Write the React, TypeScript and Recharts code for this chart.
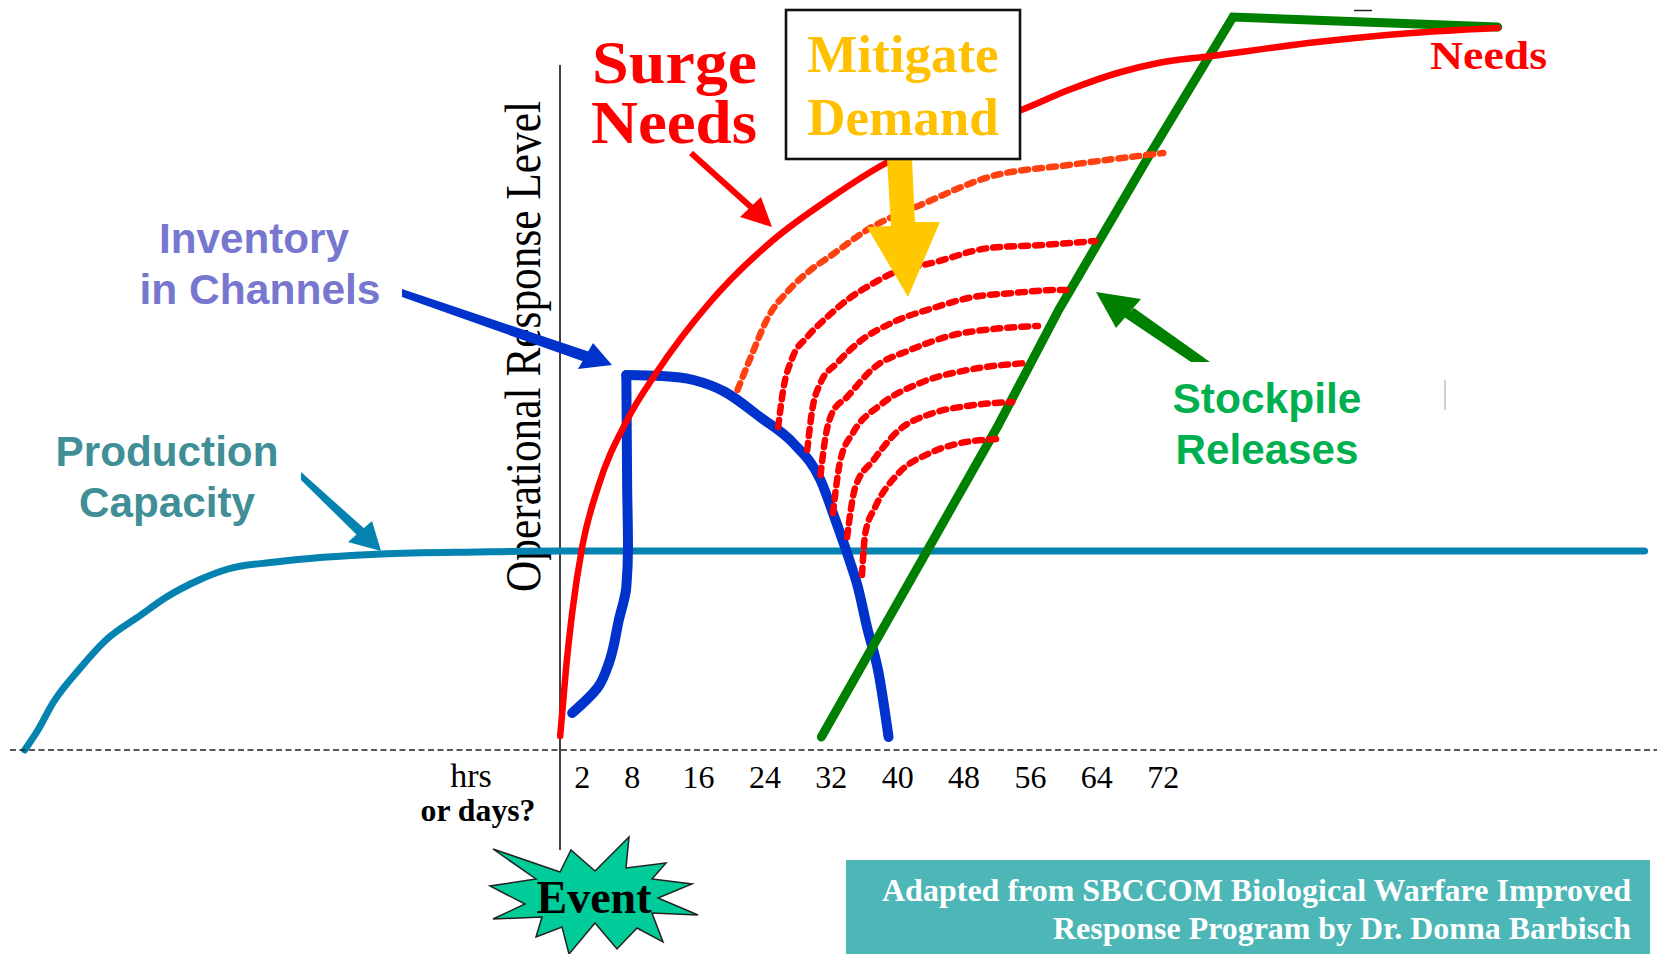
import React from "react";
import { ComposedChart, Line, XAxis, YAxis } from "recharts";

const hourTicks = [2, 8, 16, 24, 32, 40, 48, 56, 64, 72];

const surgeHours = [-0.67, 0.05, 0.77, 1.98, 3.9, 7.4, 10.9, 17.3, 25.0, 31.9, 38.6, 46.4, 54.9, 60.6, 66.9, 71.4, 77.8, 90.6, 102.0, 112.3];
const surgeLevels = [14, 83, 137, 203, 263, 330, 377, 447, 510, 552, 587, 615, 640, 660, 678, 687, 694, 708, 717, 722];

const inventoryRiseHours = [0.77, 3.9, 5.2, 6.4, 7.3, 7.5, 7.4, 7.3];
const inventoryRiseLevels = [37, 63, 87, 130, 163, 203, 263, 375];
const inventoryFallHours = [7.3, 11.6, 15.4, 19.2, 23.4, 27.4, 30.7, 32.5, 34.3, 35.2, 36.3, 37.7, 38.9];
const inventoryFallLevels = [375, 374, 370, 358, 333, 307, 270, 230, 187, 163, 123, 77, 13];

const stockpileHours = [30.8, 43.6, 52.0, 59.4, 70.2, 80.4, 112.3];
const stockpileLevels = [13, 200, 323, 440, 593, 733, 723];

const productionHours = [-65.2, -63.6, -61.8, -58.7, -55.4, -51.2, -48.1, -44.2, -40.7, -35.0, -22.2, -10.8, -0.67, 130.0];
const productionLevels = [0, 20, 47, 80, 110, 135, 153, 170, 181, 188, 196, 198, 199, 199];

const mitigated1Hours = [20.7, 22.5, 24.4, 26.9, 29.5, 31.9, 36.3, 43.3, 51.0, 60.6, 72.0];
const mitigated1Levels = [360, 397, 433, 460, 480, 494, 520, 547, 573, 585, 597];
const mitigated2Hours = [25.6, 26.2, 27.3, 29.1, 31.5, 33.9, 37.1, 38.9, 44.6, 51.0, 57.4, 63.8];
const mitigated2Levels = [323, 360, 392, 413, 433, 450, 467, 475, 488, 502, 505, 509];
const mitigated3Hours = [29.1, 29.7, 30.7, 32.7, 35.2, 39.5, 44.3, 49.1, 53.9, 59.2, 60.3];
const mitigated3Levels = [300, 340, 367, 387, 407, 428, 442, 453, 457, 460, 460];
const mitigated4Hours = [30.7, 31.3, 32.1, 33.9, 37.1, 41.5, 46.7, 51.5, 56.9];
const mitigated4Levels = [275, 313, 337, 353, 382, 400, 415, 421, 424];
const mitigated5Hours = [32.2, 33.1, 34.6, 37.9, 42.7, 48.4, 55.6];
const mitigated5Levels = [237, 290, 317, 345, 367, 380, 387];
const mitigated6Hours = [33.9, 34.9, 37.1, 39.9, 44.3, 48.4, 53.8];
const mitigated6Levels = [213, 263, 290, 318, 337, 344, 348];
const mitigated7Hours = [35.7, 36.1, 37.3, 39.9, 43.9, 47.6, 52.0];
const mitigated7Levels = [175, 217, 243, 275, 297, 307, 311];

const zip = (xs: number[], ys: number[]) => xs.map((x, i) => ({ x, y: ys[i] }));

const SERIF = "'Liberation Serif', serif";
const SANS = "'Liberation Sans', sans-serif";
const layer: React.CSSProperties = { position: "absolute", left: 0, top: 0 };

const dashedRed = [
  { name: "Mitigated 2", xs: mitigated2Hours, ys: mitigated2Levels },
  { name: "Mitigated 3", xs: mitigated3Hours, ys: mitigated3Levels },
  { name: "Mitigated 4", xs: mitigated4Hours, ys: mitigated4Levels },
  { name: "Mitigated 5", xs: mitigated5Hours, ys: mitigated5Levels },
  { name: "Mitigated 6", xs: mitigated6Hours, ys: mitigated6Levels },
  { name: "Mitigated 7", xs: mitigated7Hours, ys: mitigated7Levels },
];

export default function App() {
  return (
    <div style={{ ...layer, width: 1657, height: 954, overflow: "hidden", background: "#fff" }}>
      <svg width={1657} height={954} style={layer}>
        <line x1={560} y1={65} x2={560} y2={850} stroke="#111" strokeWidth={1.6} />
        <text
          transform="translate(540,592) rotate(-90) scale(1,1.2)"
          fontFamily={SERIF}
          fontSize={43}
          fill="#000"
          textLength={491}
          lengthAdjust="spacingAndGlyphs"
        >
          Operational Response Level
        </text>
      </svg>

      <div style={layer}>
        <ComposedChart width={1657} height={954} margin={{ top: 0, right: 0, bottom: 144, left: 10 }}>
          <XAxis
            type="number"
            dataKey="x"
            domain={[-66.97, 131.5]}
            ticks={hourTicks}
            interval={0}
            height={60}
            allowDataOverflow
            tickLine={false}
            tickMargin={9}
            axisLine={{ stroke: "#222", strokeWidth: 1.4, strokeDasharray: "6 3.5" }}
            tick={{ fontFamily: SERIF, fontSize: 32, fill: "#000" }}
          />
          <YAxis hide type="number" domain={[0, 750]} />
          <Line data={zip(productionHours, productionLevels)} dataKey="y" name="Production Capacity" type="monotone" stroke="#0482B0" strokeWidth={7} strokeLinecap="round" dot={false} activeDot={false} isAnimationActive={false} />
          <Line data={zip(inventoryRiseHours, inventoryRiseLevels)} dataKey="y" name="Inventory rise" type="monotoneY" stroke="#0033CC" strokeWidth={10} strokeLinecap="round" dot={false} activeDot={false} isAnimationActive={false} />
          <Line data={zip(inventoryFallHours, inventoryFallLevels)} dataKey="y" name="Inventory fall" type="monotone" stroke="#0033CC" strokeWidth={10} strokeLinecap="round" dot={false} activeDot={false} isAnimationActive={false} />
          <Line data={zip(stockpileHours, stockpileLevels)} dataKey="y" name="Stockpile Releases" type="linear" stroke="#008000" strokeWidth={9} strokeLinecap="round" strokeLinejoin="miter" dot={false} activeDot={false} isAnimationActive={false} />
          <Line data={zip(surgeHours, surgeLevels)} dataKey="y" name="Surge Needs" type="monotone" stroke="#FF0000" strokeWidth={6.5} strokeLinecap="round" dot={false} activeDot={false} isAnimationActive={false} />
          <Line data={zip(mitigated1Hours, mitigated1Levels)} dataKey="y" name="Mitigated 1" type="monotone" stroke="#FF4010" strokeWidth={6.5} strokeLinecap="round" strokeDasharray="7 7" dot={false} activeDot={false} isAnimationActive={false} />
          {dashedRed.map((c) => (
            <Line key={c.name} data={zip(c.xs, c.ys)} dataKey="y" name={c.name} type="monotone" stroke="#FF0000" strokeWidth={6.5} strokeLinecap="round" strokeDasharray="7 7" dot={false} activeDot={false} isAnimationActive={false} />
          ))}
        </ComposedChart>
      </div>

      <svg width={1657} height={954} style={layer}>
        {/* Surge arrow */}
        <line x1={691} y1={153} x2={752} y2={208} stroke="#FF0000" strokeWidth={6} />
        <polygon points="772,227 740,217 761,197" fill="#FF0000" />
        <text x={592} y={83} fontFamily={SERIF} fontWeight="bold" fontSize={61} fill="#FF0000" textLength={165} lengthAdjust="spacingAndGlyphs">Surge</text>
        <text x={591} y={143} fontFamily={SERIF} fontWeight="bold" fontSize={61} fill="#FF0000" textLength={166} lengthAdjust="spacingAndGlyphs">Needs</text>

        {/* Mitigate box and arrow */}
        <polygon points="887,159 912,159 915,222 940,222 908,297 867,227 891,226" fill="#FFC800" />
        <rect x={786} y={10} width={234} height={149} fill="#fff" stroke="#111" strokeWidth={2.6} />
        <text x={903} y={72} textAnchor="middle" fontFamily={SERIF} fontWeight="bold" fontSize={53} fill="#FFC000">Mitigate</text>
        <text x={903} y={135} textAnchor="middle" fontFamily={SERIF} fontWeight="bold" fontSize={53} fill="#FFC000">Demand</text>

        {/* Needs */}
        <text x={1430} y={69} fontFamily={SERIF} fontWeight="bold" fontSize={41} fill="#FF0000" textLength={117} lengthAdjust="spacingAndGlyphs">Needs</text>
        <line x1={1354} y1={10.5} x2={1372} y2={10.5} stroke="#222" strokeWidth={1.5} />
        <line x1={1445} y1={380} x2={1445} y2={410} stroke="#9a9" strokeWidth={1} />

        {/* Inventory */}
        <text x={254} y={253} textAnchor="middle" fontFamily={SANS} fontWeight="bold" fontSize={42} fill="#7777D0" textLength={190} lengthAdjust="spacingAndGlyphs">Inventory</text>
        <text x={260} y={304} textAnchor="middle" fontFamily={SANS} fontWeight="bold" fontSize={42} fill="#7777D0" textLength={241} lengthAdjust="spacingAndGlyphs">in Channels</text>
        <polygon points="402,289 402,297 585,362 590,352" fill="#0033CC" />
        <polygon points="612,365 578,369 593,343" fill="#0033CC" />

        {/* Production */}
        <text x={167} y={466} textAnchor="middle" fontFamily={SANS} fontWeight="bold" fontSize={42} fill="#408E96" textLength={223} lengthAdjust="spacingAndGlyphs">Production</text>
        <text x={167} y={517} textAnchor="middle" fontFamily={SANS} fontWeight="bold" fontSize={42} fill="#408E96" textLength={176} lengthAdjust="spacingAndGlyphs">Capacity</text>
        <polygon points="301,480 301,472 367,531 360,538" fill="#0482B0" />
        <polygon points="381,551 348,542 372,521" fill="#0482B0" />

        {/* Stockpile */}
        <polygon points="1191,362 1210,362 1134,308 1124,317" fill="#008000" />
        <polygon points="1096,292 1116,328 1141,299" fill="#008000" />
        <text x={1267} y={413} textAnchor="middle" fontFamily={SANS} fontWeight="bold" fontSize={42} fill="#00B050" textLength={189} lengthAdjust="spacingAndGlyphs">Stockpile</text>
        <text x={1267} y={464} textAnchor="middle" fontFamily={SANS} fontWeight="bold" fontSize={42} fill="#00B050" textLength={183} lengthAdjust="spacingAndGlyphs">Releases</text>

        {/* x-axis units */}
        <text x={471} y={787} textAnchor="middle" fontFamily={SERIF} fontSize={34} fill="#000">hrs</text>
        <text x={478} y={821} textAnchor="middle" fontFamily={SERIF} fontWeight="bold" fontSize={31} fill="#000" textLength={115} lengthAdjust="spacingAndGlyphs">or days?</text>

        {/* Event */}
        <polygon
          points="493,849 560,872 571,850 595,871 629,837 626,868 666,863 652,879 692,884 658,898 698,915 652,913 663,942 637,928 617,949 595,923 569,954 562,927 536,937 542,917 493,919 525,904 490,886 536,879"
          fill="#00CC99"
          stroke="#222"
          strokeWidth={1.5}
        />
        <text x={594} y={913} textAnchor="middle" fontFamily={SERIF} fontWeight="bold" fontSize={46} fill="#000">Event</text>

        {/* Source note */}
        <rect x={846} y={860} width={804} height={94} fill="#4DB6B6" />
        <text x={1631} y={901} textAnchor="end" fontFamily={SERIF} fontWeight="bold" fontSize={32} fill="#fff" textLength={749} lengthAdjust="spacingAndGlyphs">Adapted from SBCCOM Biological Warfare Improved</text>
        <text x={1631} y={939} textAnchor="end" fontFamily={SERIF} fontWeight="bold" fontSize={32} fill="#fff" textLength={578} lengthAdjust="spacingAndGlyphs">Response Program by Dr. Donna Barbisch</text>
      </svg>
    </div>
  );
}
